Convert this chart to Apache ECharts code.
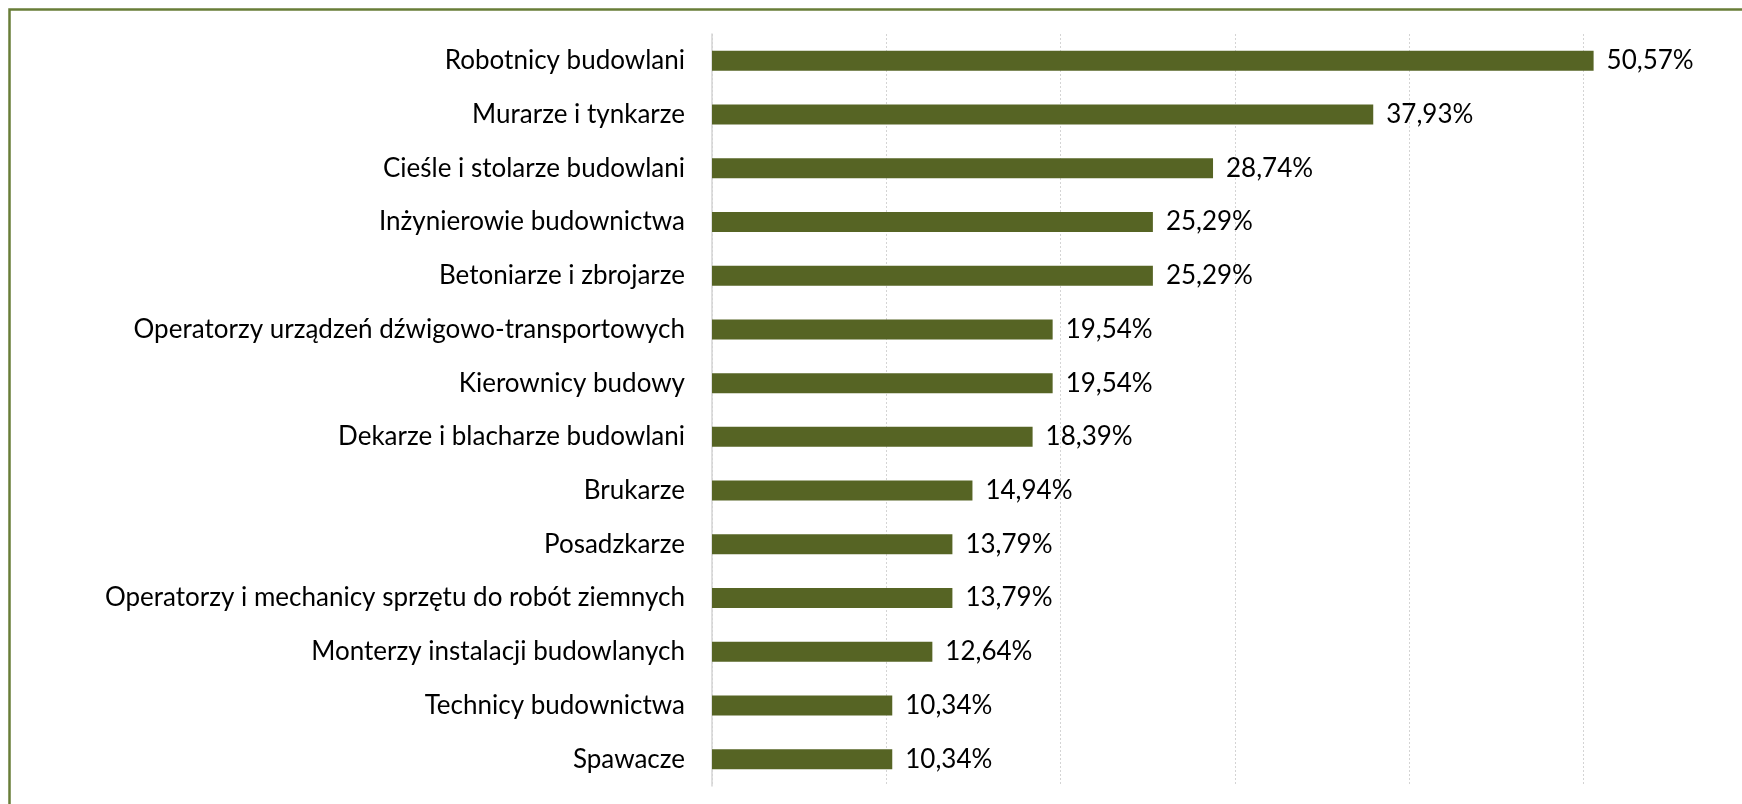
<!DOCTYPE html>
<html>
<head>
<meta charset="utf-8">
<script src="https://cdn.jsdelivr.net/npm/echarts@6/dist/echarts.min.js"></script>
<style>
  html, body { margin: 0; padding: 0; background: #ffffff; }
  #chart { width: 1742px; height: 804px; }
</style>
</head>
<body>
<div id="chart"></div>
<script>
// Zawody – odsetek wskazań
const categories = [
  'Robotnicy budowlani',
  'Murarze i tynkarze',
  'Cieśle i stolarze budowlani',
  'Inżynierowie budownictwa',
  'Betoniarze i zbrojarze',
  'Operatorzy urządzeń dźwigowo-transportowych',
  'Kierownicy budowy',
  'Dekarze i blacharze budowlani',
  'Brukarze',
  'Posadzkarze',
  'Operatorzy i mechanicy sprzętu do robót ziemnych',
  'Monterzy instalacji budowlanych',
  'Technicy budownictwa',
  'Spawacze'
];
const shares = [50.57, 37.93, 28.74, 25.29, 25.29, 19.54, 19.54, 18.39, 14.94, 13.79, 13.79, 12.64, 10.34, 10.34];

const FONT = 'Lato, "Open Sans", sans-serif';
const fmt = v => v.toFixed(2).replace('.', ',') + '%';

const chart = echarts.init(document.getElementById('chart'), null, { renderer: 'canvas' });
chart.setOption({
  backgroundColor: '#ffffff',
  animation: false,
  graphic: [{
    type: 'rect',
    shape: { x: 9.5, y: 9.5, width: 1800, height: 900 },
    style: { fill: 'none', stroke: '#687d38', lineWidth: 2.5 },
    z: 10
  }],
  // the value axis runs on past the right edge of the frame (up to 60%)
  grid: { left: 712, top: 34, width: 1046, height: 752, containLabel: false, outerBoundsMode: 'none' },
  xAxis: {
    type: 'value',
    min: 0,
    max: 60,
    interval: 10,
    axisLine: { show: false },
    axisTick: { show: false },
    axisLabel: { show: false },
    splitLine: { show: true, lineStyle: { color: '#d4d4d4', width: 1, type: [2, 2] } }
  },
  yAxis: {
    type: 'category',
    data: categories,
    inverse: true,
    axisLine: { show: true, lineStyle: { color: '#d4d4d4', width: 1.5 } },
    axisTick: { show: false },
    axisLabel: {
      margin: 27,
      color: '#000000',
      fontFamily: FONT,
      fontSize: 26
    },
    splitLine: { show: false }
  },
  series: [{
    type: 'bar',
    data: shares,
    barWidth: 20,
    itemStyle: { color: '#566424' },
    label: {
      show: true,
      position: 'right',
      distance: 13,
      color: '#000000',
      fontFamily: FONT,
      fontSize: 26,
      formatter: p => fmt(p.value)
    }
  }]
});
</script>
</body>
</html>
